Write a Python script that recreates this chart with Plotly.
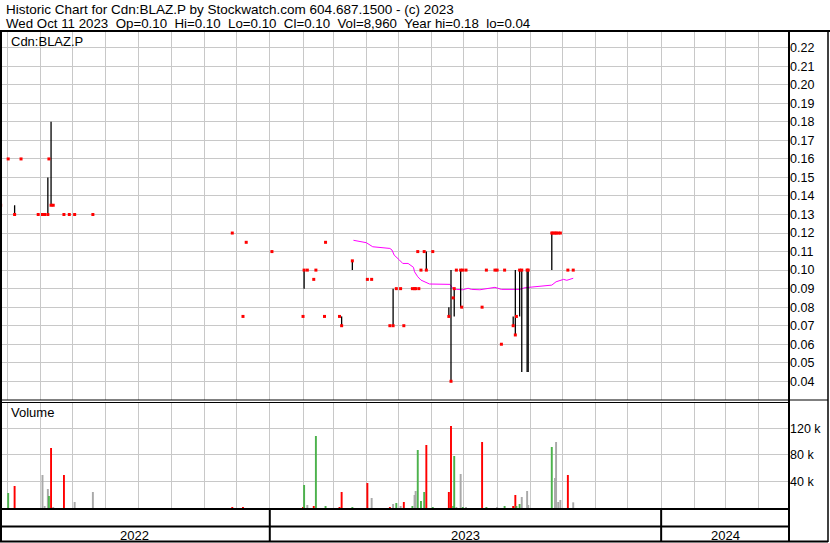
import pandas as pd
import plotly.graph_objects as go

W, H = 830, 543

# ---------------- data ----------------
dates = [
    "2022-04-25", "2022-05-02", "2022-05-08", "2022-05-14", "2022-05-30", "2022-06-03",
    "2022-06-05", "2022-06-08", "2022-06-09", "2022-06-11", "2022-06-13", "2022-06-23",
    "2022-06-28", "2022-07-03", "2022-07-20", "2022-11-27", "2022-12-07", "2022-12-10",
    "2023-01-03", "2023-02-01", "2023-02-02", "2023-02-05", "2023-02-11", "2023-02-13",
    "2023-02-21", "2023-02-22", "2023-03-07", "2023-03-09", "2023-03-19", "2023-04-02",
    "2023-04-06", "2023-04-23", "2023-04-26", "2023-04-29", "2023-05-03", "2023-05-06",
    "2023-05-14", "2023-05-16", "2023-05-17", "2023-05-19", "2023-05-20", "2023-05-22",
    "2023-05-25", "2023-05-27", "2023-06-02", "2023-06-17", "2023-06-19", "2023-06-21",
    "2023-06-22", "2023-06-24", "2023-06-28", "2023-06-29", "2023-06-30", "2023-07-03",
    "2023-07-18", "2023-07-22", "2023-07-30", "2023-08-01", "2023-08-05", "2023-08-08",
    "2023-08-16", "2023-08-18", "2023-08-19", "2023-08-22", "2023-08-24", "2023-08-29",
    "2023-08-30", "2023-09-21", "2023-09-22", "2023-09-24", "2023-09-25", "2023-09-27",
    "2023-09-29", "2023-10-06", "2023-10-11",
]
highs = [
    0.135, 0.16, 0.135, 0.16, 0.13, 0.13,
    0.13, 0.15, 0.16, 0.18, 0.135, 0.13,
    0.13, 0.13, 0.13, 0.12, 0.075, 0.115,
    0.11, 0.075, 0.10, 0.10, 0.095, 0.10,
    0.075, 0.115, 0.075, 0.075, 0.105, 0.095,
    0.095, 0.07, 0.09, 0.09, 0.09, 0.07,
    0.09, 0.09, 0.09, 0.11, 0.09, 0.10,
    0.11, 0.11, 0.11, 0.08, 0.10, 0.085,
    0.09, 0.10, 0.10, 0.08, 0.10, 0.10,
    0.08, 0.10, 0.10, 0.10, 0.06, 0.10,
    0.075, 0.10, 0.075, 0.10, 0.10, 0.10,
    0.10, 0.12, 0.12, 0.12, 0.12, 0.12,
    0.12, 0.10, 0.10,
]
lows = [
    0.135, 0.16, 0.13, 0.16, 0.13, 0.13,
    0.13, 0.13, 0.16, 0.135, 0.135, 0.13,
    0.13, 0.13, 0.13, 0.12, 0.075, 0.115,
    0.11, 0.075, 0.09, 0.10, 0.095, 0.10,
    0.075, 0.115, 0.075, 0.07, 0.10, 0.095,
    0.095, 0.07, 0.07, 0.09, 0.09, 0.07,
    0.09, 0.09, 0.09, 0.11, 0.09, 0.10,
    0.11, 0.10, 0.11, 0.075, 0.04, 0.085,
    0.075, 0.10, 0.08, 0.08, 0.10, 0.10,
    0.08, 0.10, 0.10, 0.10, 0.06, 0.10,
    0.07, 0.065, 0.075, 0.075, 0.045, 0.045,
    0.045, 0.10, 0.12, 0.12, 0.12, 0.12,
    0.12, 0.10, 0.10,
]
closes = [
    0.135, 0.16, 0.13, 0.16, 0.13, 0.13,
    0.13, 0.13, 0.16, 0.135, 0.135, 0.13,
    0.13, 0.13, 0.13, 0.12, 0.075, 0.115,
    0.11, 0.075, 0.10, 0.10, 0.095, 0.10,
    0.075, 0.115, 0.075, 0.07, 0.105, 0.095,
    0.095, 0.07, 0.07, 0.09, 0.09, 0.07,
    0.09, 0.09, 0.09, 0.11, 0.09, 0.10,
    0.11, 0.10, 0.11, 0.075, 0.04, 0.085,
    0.09, 0.10, 0.10, 0.08, 0.10, 0.10,
    0.08, 0.10, 0.10, 0.10, 0.06, 0.10,
    0.07, 0.065, 0.075, 0.10, 0.10, 0.10,
    0.10, 0.12, 0.12, 0.12, 0.12, 0.12,
    0.12, 0.10, 0.10,
]
volumes = [
    9500, 23000, 33500, 500, 500, 50000,
    3500, 29000, 18500, 90500, 2000, 50000,
    500, 9500, 24500, 2000, 2000, 500,
    500, 2000, 35000, 5000, 3500, 108500,
    500, 3500, 2000, 24500, 2000, 38000,
    15500, 2000, 6500, 8000, 3500, 9500,
    3500, 20000, 26000, 87500, 500, 11000,
    24500, 95000, 2000, 24500, 123500, 3500,
    78500, 2000, 51500, 500, 2000, 2000,
    99500, 2000, 500, 2000, 500, 3500,
    3500, 20000, 3500, 6500, 17000, 26000,
    5000, 92000, 500, 45500, 99500, 9500,
    12500, 50000, 8960,
]
# U = up day, D = down day, N = unchanged
direction = [
    "N", "U", "D", "U", "D", "N",
    "N", "N", "U", "D", "N", "D",
    "N", "N", "N", "D", "D", "U",
    "D", "D", "U", "N", "D", "U",
    "D", "U", "D", "D", "U", "D",
    "N", "D", "N", "U", "N", "D",
    "U", "N", "N", "U", "D", "U",
    "U", "D", "U", "D", "D", "U",
    "U", "N", "N", "D", "U", "N",
    "D", "U", "N", "N", "D", "U",
    "D", "D", "U", "U", "N", "N",
    "N", "U", "N", "N", "N", "N",
    "N", "D", "N",
]

ma_dates = [
    "2023-03-20", "2023-04-01", "2023-04-07", "2023-04-23", "2023-04-25", "2023-04-27",
    "2023-05-02", "2023-05-05", "2023-05-10", "2023-05-15", "2023-05-16", "2023-05-19",
    "2023-05-22", "2023-05-27", "2023-05-30", "2023-06-18", "2023-06-20", "2023-06-21",
    "2023-06-24", "2023-06-30", "2023-07-05", "2023-07-08", "2023-07-16", "2023-07-25",
    "2023-07-30", "2023-08-05", "2023-08-22", "2023-08-27", "2023-09-05", "2023-09-16",
    "2023-09-21", "2023-09-25", "2023-09-29", "2023-10-02", "2023-10-05", "2023-10-08",
    "2023-10-11",
]
ma_values = [
    0.1161, 0.1148, 0.1126, 0.1117, 0.1108, 0.1081,
    0.1054, 0.1036, 0.1036, 0.1015, 0.0991, 0.0964,
    0.0946, 0.0933, 0.0925, 0.0923, 0.0910, 0.0899,
    0.0896, 0.0894, 0.0902, 0.0896, 0.0894, 0.0902,
    0.0907, 0.0896, 0.0896, 0.0905, 0.0910, 0.0916,
    0.0919, 0.0937, 0.0946, 0.0950, 0.0945, 0.0950,
    0.0956,
]

price_ticks = [0.04, 0.05, 0.06, 0.07, 0.08, 0.09, 0.10, 0.11, 0.12, 0.13,
               0.14, 0.15, 0.16, 0.17, 0.18, 0.19, 0.20, 0.21, 0.22]
vol_ticks = [40000, 80000, 120000]
vol_tick_labels = ["40 k", "80 k", "120 k"]
years = [2022, 2023, 2024]

title_line1 = "Historic Chart for Cdn:BLAZ.P by Stockwatch.com 604.687.1500 - (c) 2023"
title_line2 = ("Wed Oct 11 2023\u00a0\u00a0Op=0.10\u00a0\u00a0Hi=0.10\u00a0\u00a0Lo=0.10\u00a0\u00a0"
               "Cl=0.10\u00a0\u00a0Vol=8,960\u00a0\u00a0Year hi=0.18\u00a0\u00a0lo=0.04")
symbol_label = "Cdn:BLAZ.P"
volume_label = "Volume"

# ---------------- layout helpers ----------------
def fx(px):
    return px / W

def fy(py):
    return 1 - py / H

FONT = "Liberation Sans, Arial, sans-serif"
GRID = "#c8c8c8"
x_range = [pd.Timestamp("2022-04-24 09:00"), pd.Timestamp("2024-04-29 05:45")]
dir_colors = {"U": "#4cb24c", "D": "#ff0000", "N": "#a9a9a9"}
DAY_MS = 86400000

fig = go.Figure()

fig.add_trace(go.Scatter(
    x=ma_dates, y=ma_values, mode="lines",
    line=dict(color="#ff00ff", width=1), xaxis="x", yaxis="y", hoverinfo="skip"))

fig.add_trace(go.Scatter(
    x=dates, y=highs, mode="markers",
    marker=dict(size=1, color="rgba(0,0,0,0)"),
    error_y=dict(type="data", symmetric=False, array=[0] * len(highs),
                 arrayminus=[h - l for h, l in zip(highs, lows)],
                 width=0, thickness=1.3, color="#000000"),
    xaxis="x", yaxis="y", hoverinfo="skip"))

fig.add_trace(go.Scatter(
    x=dates, y=closes, mode="markers",
    marker=dict(symbol="square", size=3, color="#ff0000", line=dict(width=0)),
    xaxis="x", yaxis="y", hoverinfo="skip"))

fig.add_trace(go.Bar(
    x=dates, y=volumes, width=1.8 * DAY_MS,
    marker=dict(color=[dir_colors[d] for d in direction], line=dict(width=0)),
    xaxis="x2", yaxis="y2", hoverinfo="skip"))

xcommon = dict(type="date", range=x_range, domain=[0, fx(789)], showgrid=True,
               gridcolor=GRID, gridwidth=1, dtick="M1", tick0="2022-05-01",
               showticklabels=False, ticks="", zeroline=False, showline=False)

fig.update_layout(
    width=W, height=H, margin=dict(l=0, r=0, t=0, b=0),
    paper_bgcolor="white", plot_bgcolor="white", showlegend=False,
    hovermode=False, barmode="overlay",
    font=dict(family=FONT, color="#000000"),
    xaxis=dict(anchor="y", **xcommon),
    xaxis2=dict(anchor="y2", matches="x", **xcommon),
    yaxis=dict(domain=[fy(400), fy(32)], range=[0.0299, 0.2285], side="right",
               anchor="x", tickvals=price_ticks, ticktext=[f"{t:.2f}" for t in price_ticks],
               showgrid=True, gridcolor=GRID, gridwidth=1, ticks="", zeroline=False,
               showline=False, tickfont=dict(size=12.5, family=FONT, color="#000000")),
    yaxis2=dict(domain=[fy(509), fy(402)], range=[-1050, 159450], side="right",
                anchor="x2", tickvals=vol_ticks, ticktext=vol_tick_labels,
                showgrid=True, gridcolor=GRID, gridwidth=1, ticks="", zeroline=False,
                showline=False, tickfont=dict(size=12.5, family=FONT, color="#000000")),
)

shapes = []

def pline(x0, y0, x1, y1, w=1):
    shapes.append(dict(type="line", xref="paper", yref="paper",
                       x0=fx(x0), y0=fy(y0), x1=fx(x1), y1=fy(y1),
                       line=dict(color="#000000", width=w)))

pline(0, 31, 830, 31, 2)        # under header
pline(1, 31, 1, 542, 2)         # left border
pline(789, 31, 789, 542, 2)     # plot right border
pline(828, 31, 828, 542, 1.5)   # outer right border
pline(0, 400, 828, 400, 1)      # price/volume separation
pline(0, 402.5, 789, 402.5, 1)
pline(0, 509, 789, 509, 2)      # volume bottom
pline(0, 526.5, 789, 526.5, 2)  # date band middle
pline(0, 541.5, 828, 541.5, 2)  # bottom

annotations = []
for i, yr in enumerate(years):
    start = max(x_range[0], pd.Timestamp(f"{yr}-01-01"))
    end = min(x_range[1], pd.Timestamp(f"{yr + 1}-01-01"))
    mid = start + (end - start) / 2
    annotations.append(dict(x=mid, xref="x", y=fy(535), yref="paper", text=str(yr),
                            showarrow=False, xanchor="center", yanchor="middle",
                            font=dict(size=13, family=FONT, color="#000000")))
    if i > 0:
        shapes.append(dict(type="line", xref="x", yref="paper",
                           x0=pd.Timestamp(f"{yr}-01-01"), x1=pd.Timestamp(f"{yr}-01-01"),
                           y0=fy(541.5), y1=fy(509),
                           line=dict(color="#000000", width=2)))

for txt, x, y, size in [(title_line1, 4, 9.5, 13.5), (title_line2, 4, 23.5, 13.3),
                        (symbol_label, 8.5, 41.5, 13), (volume_label, 8.5, 413, 13)]:
    annotations.append(dict(x=fx(x), xref="paper", y=fy(y), yref="paper", text=txt,
                            showarrow=False, xanchor="left", yanchor="middle",
                            font=dict(size=size, family=FONT, color="#000000")))

fig.update_layout(shapes=shapes, annotations=annotations)

# The page's default body margin would offset the chart by 8px; remove it.
fig.write_html(
    "out.html",
    config={"displayModeBar": False, "staticPlot": True},
    post_script="document.body.style.margin='0';document.body.style.overflow='hidden';",
)
